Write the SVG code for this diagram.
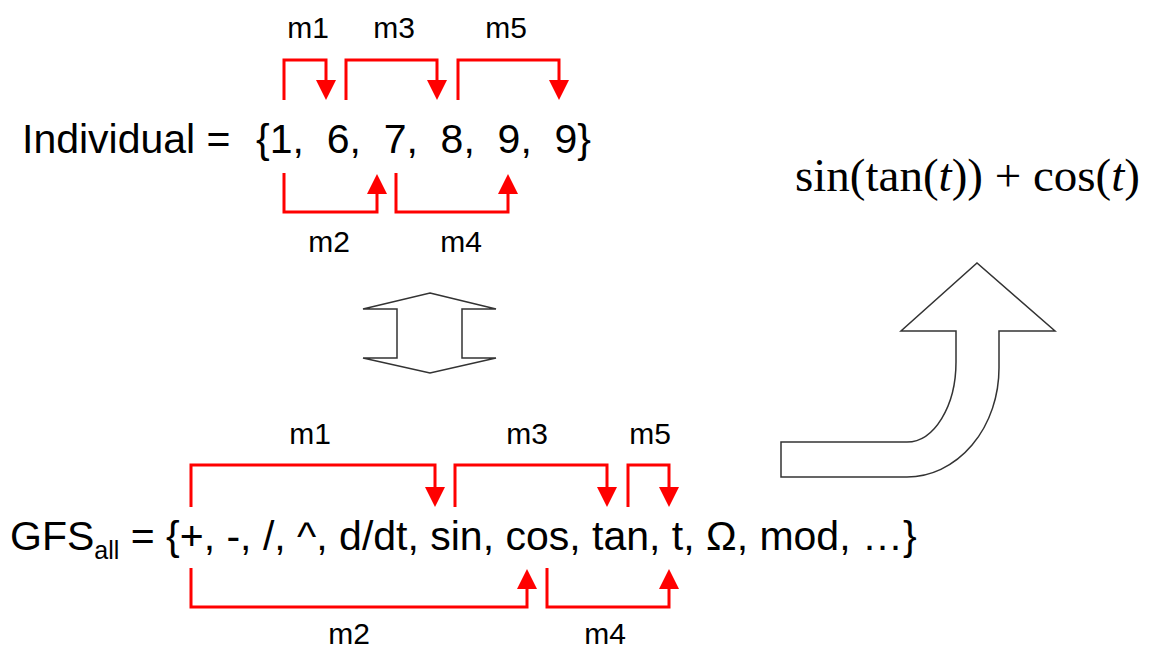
<svg xmlns="http://www.w3.org/2000/svg" width="1151" height="649" viewBox="0 0 1151 649">
  <style>
    .sans { font-family: "Liberation Sans", Arial, sans-serif; fill: #000; }
    .main { font-size: 41px; }
    .lbl { font-size: 30px; text-anchor: middle; }
    .serif { font-family: "Liberation Serif", "Times New Roman", serif; font-size: 47px; fill: #000; }
    .br { fill: none; stroke: #ff0000; stroke-width: 3; marker-end: url(#ah); }
    .outline { fill: #fff; stroke: #333; stroke-width: 1.5; stroke-linejoin: miter; }
  </style>
  <defs>
    <marker id="ah" markerUnits="userSpaceOnUse" markerWidth="20" markerHeight="20" viewBox="0 0 20 20" refX="1" refY="10" orient="auto">
      <path d="M0,0 L20,10 L0,20 Z" fill="#ff0000"/>
    </marker>
  </defs>
  <rect width="1151" height="649" fill="#fff"/>

  <g id="individual">
    <text class="sans main" x="22" y="153">Individual =</text>
    <text class="sans main" x="256" y="153">{1,&#160; 6,&#160; 7,&#160; 8,&#160; 9,&#160; 9}</text>
  </g>

  <g id="gfs">
    <text class="sans main" x="10" y="550">GFS<tspan font-size="25" dy="9">all</tspan><tspan dy="-9"> = {+, -, /, ^, d/dt, sin, cos, tan, t, Ω, mod, …}</tspan></text>
  </g>

  <g id="formula">
    <text class="serif" x="795" y="191">sin(tan(<tspan font-style="italic">t</tspan>)) + cos(<tspan font-style="italic">t</tspan>)</text>
  </g>

  <g id="double-arrow">
    <polygon class="outline" points="430,293 496,309 462,309 462,358 496,358 430,373 363,358 397,358 397,309 363,309"/>
  </g>

  <g id="curved-arrow">
    <path class="outline" d="M781,442 L907,442 A49 80 0 0 0 956,362 L956,331 L901,331 L977,263 L1055,331 L999,331 L999,368 A92 109 0 0 1 907,477 L781,477 Z"/>
  </g>

  <g id="connectors">
    <g id="top-m1"><path class="br" d="M284,100 V60 H326 V81"/><text class="sans lbl" x="308" y="38">m1</text></g>
    <g id="top-m3"><path class="br" d="M346,100 V60 H437 V81"/><text class="sans lbl" x="394" y="38">m3</text></g>
    <g id="top-m5"><path class="br" d="M458,100 V60 H559 V81"/><text class="sans lbl" x="506" y="38">m5</text></g>
    <g id="top-m2"><path class="br" d="M284,173 V212 H377 V193"/><text class="sans lbl" x="329" y="252">m2</text></g>
    <g id="top-m4"><path class="br" d="M396,173 V212 H508 V193"/><text class="sans lbl" x="461" y="252">m4</text></g>

    <g id="bot-m1"><path class="br" d="M191,507 V465 H435 V488"/><text class="sans lbl" x="310" y="444">m1</text></g>
    <g id="bot-m3"><path class="br" d="M455,507 V465 H607 V488"/><text class="sans lbl" x="527" y="444">m3</text></g>
    <g id="bot-m5"><path class="br" d="M628,507 V465 H669 V488"/><text class="sans lbl" x="650" y="444">m5</text></g>
    <g id="bot-m2"><path class="br" d="M191,568 V607 H527 V588"/><text class="sans lbl" x="349" y="644">m2</text></g>
    <g id="bot-m4"><path class="br" d="M547,568 V607 H669 V588"/><text class="sans lbl" x="605" y="644">m4</text></g>
  </g>
</svg>
